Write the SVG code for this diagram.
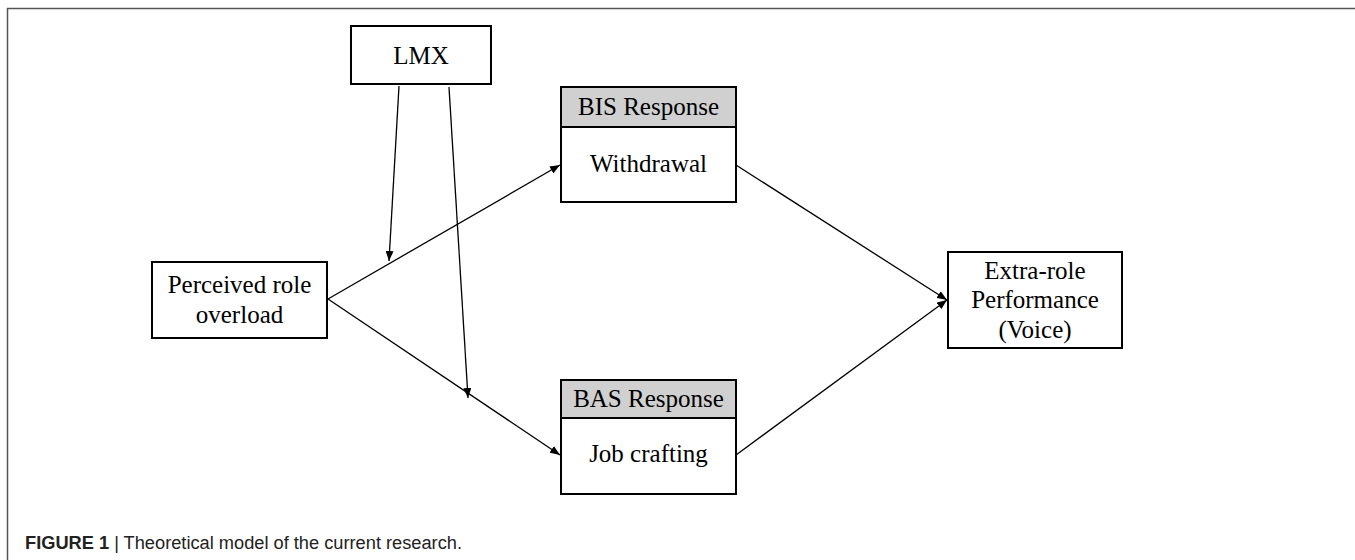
<svg xmlns="http://www.w3.org/2000/svg" width="1355" height="560" viewBox="0 0 1355 560">
  <style>
    .box { fill: #ffffff; stroke: #000000; stroke-width: 2; }
    .hdr { fill: #d0d0d0; stroke: #000000; stroke-width: 2; }
    .lbl { font-family: "Liberation Serif", "Times New Roman", serif; font-size: 25px; fill: #000000; text-anchor: middle; }
    .edge { stroke: #000000; stroke-width: 1.3; fill: none; marker-end: url(#arrow); }
    .cap { font-family: "Liberation Sans", Arial, sans-serif; font-size: 18px; fill: #222222; }
  </style>
  <defs>
    <marker id="arrow" viewBox="0 0 10 8" refX="10" refY="4" markerWidth="10" markerHeight="8" markerUnits="userSpaceOnUse" orient="auto">
      <path d="M0,0 L10,4 L0,8 z" fill="#000000"/>
    </marker>
  </defs>
  <rect x="0" y="0" width="1355" height="560" fill="#ffffff"/>
  <g id="frame">
    <line x1="7" y1="8.5" x2="1355" y2="8.5" stroke="#555555" stroke-width="1.5"/>
    <line x1="7.5" y1="8" x2="7.5" y2="560" stroke="#555555" stroke-width="1.5"/>
  </g>
  <g id="connectors">
    <line class="edge" x1="399" y1="86" x2="389" y2="261"/>
    <line class="edge" x1="449" y1="87" x2="468" y2="398"/>
    <line class="edge" x1="328" y1="299" x2="560" y2="165"/>
    <line class="edge" x1="328" y1="299" x2="560" y2="455"/>
    <line class="edge" x1="736" y1="165" x2="947" y2="300"/>
    <line class="edge" x1="736" y1="455" x2="947" y2="300"/>
  </g>
  <g id="lmx">
    <rect class="box" x="351" y="26" width="140" height="58"/>
    <text class="lbl" x="421" y="64">LMX</text>
  </g>
  <g id="perceived">
    <rect class="box" x="152" y="262" width="175" height="76"/>
    <text class="lbl" x="239.5" y="293">Perceived role</text>
    <text class="lbl" x="239.5" y="323">overload</text>
  </g>
  <g id="bis">
    <rect class="box" x="561" y="87" width="175" height="115"/>
    <rect class="hdr" x="561" y="87" width="175" height="40"/>
    <text class="lbl" x="648.5" y="115">BIS Response</text>
    <text class="lbl" x="648.5" y="172">Withdrawal</text>
  </g>
  <g id="bas">
    <rect class="box" x="561" y="380" width="175" height="114"/>
    <rect class="hdr" x="561" y="380" width="175" height="38"/>
    <text class="lbl" x="648.5" y="407">BAS Response</text>
    <text class="lbl" x="648.5" y="462">Job crafting</text>
  </g>
  <g id="extra">
    <rect class="box" x="948" y="252" width="174" height="96"/>
    <text class="lbl" x="1035" y="279">Extra-role</text>
    <text class="lbl" x="1035" y="308">Performance</text>
    <text class="lbl" x="1035" y="338">(Voice)</text>
  </g>
  <g id="caption">
    <text class="cap" x="25" y="549" textLength="437" lengthAdjust="spacingAndGlyphs"><tspan font-weight="bold">FIGURE 1</tspan> | Theoretical model of the current research.</text>
  </g>
</svg>
